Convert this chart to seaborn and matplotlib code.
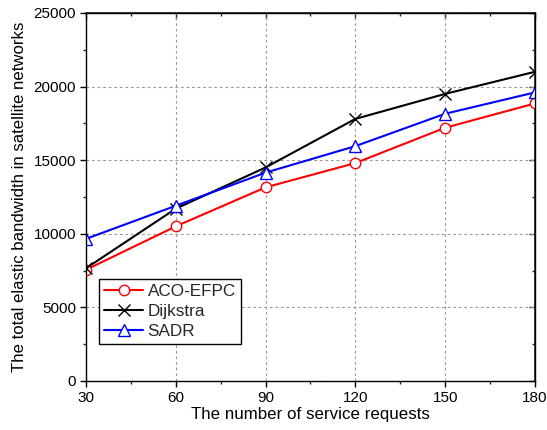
import matplotlib
matplotlib.use("Agg")
import matplotlib.pyplot as plt
from matplotlib.ticker import MultipleLocator
import seaborn as sns
import pandas as pd

requests = [30, 60, 90, 120, 150, 180]
aco_efpc = [7550, 10500, 13150, 14800, 17200, 18850]
dijkstra = [7650, 11700, 14500, 17800, 19500, 21000]
sadr = [9650, 11900, 14150, 15950, 18150, 19600]

series = [
    ("ACO-EFPC", aco_efpc, "red", "o", 7.5),
    ("Dijkstra", dijkstra, "black", "x", 9),
    ("SADR", sadr, "blue", "^", 8.5),
]

sns.set_theme(style="white")
plt.rcParams["font.family"] = ["Liberation Sans", "DejaVu Sans"]

fig = plt.figure(figsize=(5.47, 4.30), dpi=100)
ax = fig.add_axes([0.157, 0.114, 0.821, 0.856])

for name, vals, color, marker, msize in series:
    df = pd.DataFrame({"x": requests, "y": vals})
    sns.lineplot(data=df, x="x", y="y", ax=ax, color=color, lw=1.5,
                 marker=marker, markersize=msize,
                 markerfacecolor="white" if marker != "x" else color,
                 markeredgecolor=color, markeredgewidth=1.0, label=name)

ax.set_xlim(30, 180)
ax.set_ylim(0, 25000)
ax.set_xticks(requests)
ax.set_yticks(range(0, 25001, 5000))
ax.xaxis.set_minor_locator(MultipleLocator(15))
ax.yaxis.set_minor_locator(MultipleLocator(2500))
ax.grid(True, which="major", color="#9a9a9a", ls=(0, (2.5, 2.5)), lw=0.8)

for s in ax.spines.values():
    s.set_color("black")
    s.set_linewidth(1.0)

ax.tick_params(axis="both", which="major", labelsize=11, colors="black",
               length=4, width=1.0, direction="out", bottom=True, left=True, pad=3)
ax.tick_params(axis="both", which="minor", length=2.5, width=1.0,
               direction="out", bottom=True, left=True)
ax.tick_params(axis="both", which="both", top=False, right=False)

# inward ticks on the top and right frames
ax_top = ax.secondary_xaxis("top")
ax_top.set_xticks(requests)
ax_top.xaxis.set_minor_locator(MultipleLocator(15))
ax_top.tick_params(which="major", direction="in", length=4, width=1.0, labeltop=False)
ax_top.tick_params(which="minor", direction="in", length=2.5, width=1.0)
ax_top.set_xticklabels([])
ax_right = ax.secondary_yaxis("right")
ax_right.set_yticks(range(0, 25001, 5000))
ax_right.yaxis.set_minor_locator(MultipleLocator(2500))
ax_right.tick_params(which="major", direction="in", length=4, width=1.0)
ax_right.tick_params(which="minor", direction="in", length=2.5, width=1.0)
ax_right.set_yticklabels([])

ax.set_xlabel("The number of service requests", fontsize=12.2, color="black", labelpad=2)
ax.set_ylabel("The total elastic bandwidth in satellite networks", fontsize=12.1,
              color="black", labelpad=5)

leg = ax.legend(loc="lower left", bbox_to_anchor=(0.029, 0.1), fontsize=12.3,
                frameon=True, fancybox=False, edgecolor="black", framealpha=1,
                borderpad=0.3, labelspacing=0.3, handlelength=2.3,
                handletextpad=0.25, borderaxespad=0)
leg.get_frame().set_linewidth(1.0)

fig.savefig("out.png", dpi=100)
